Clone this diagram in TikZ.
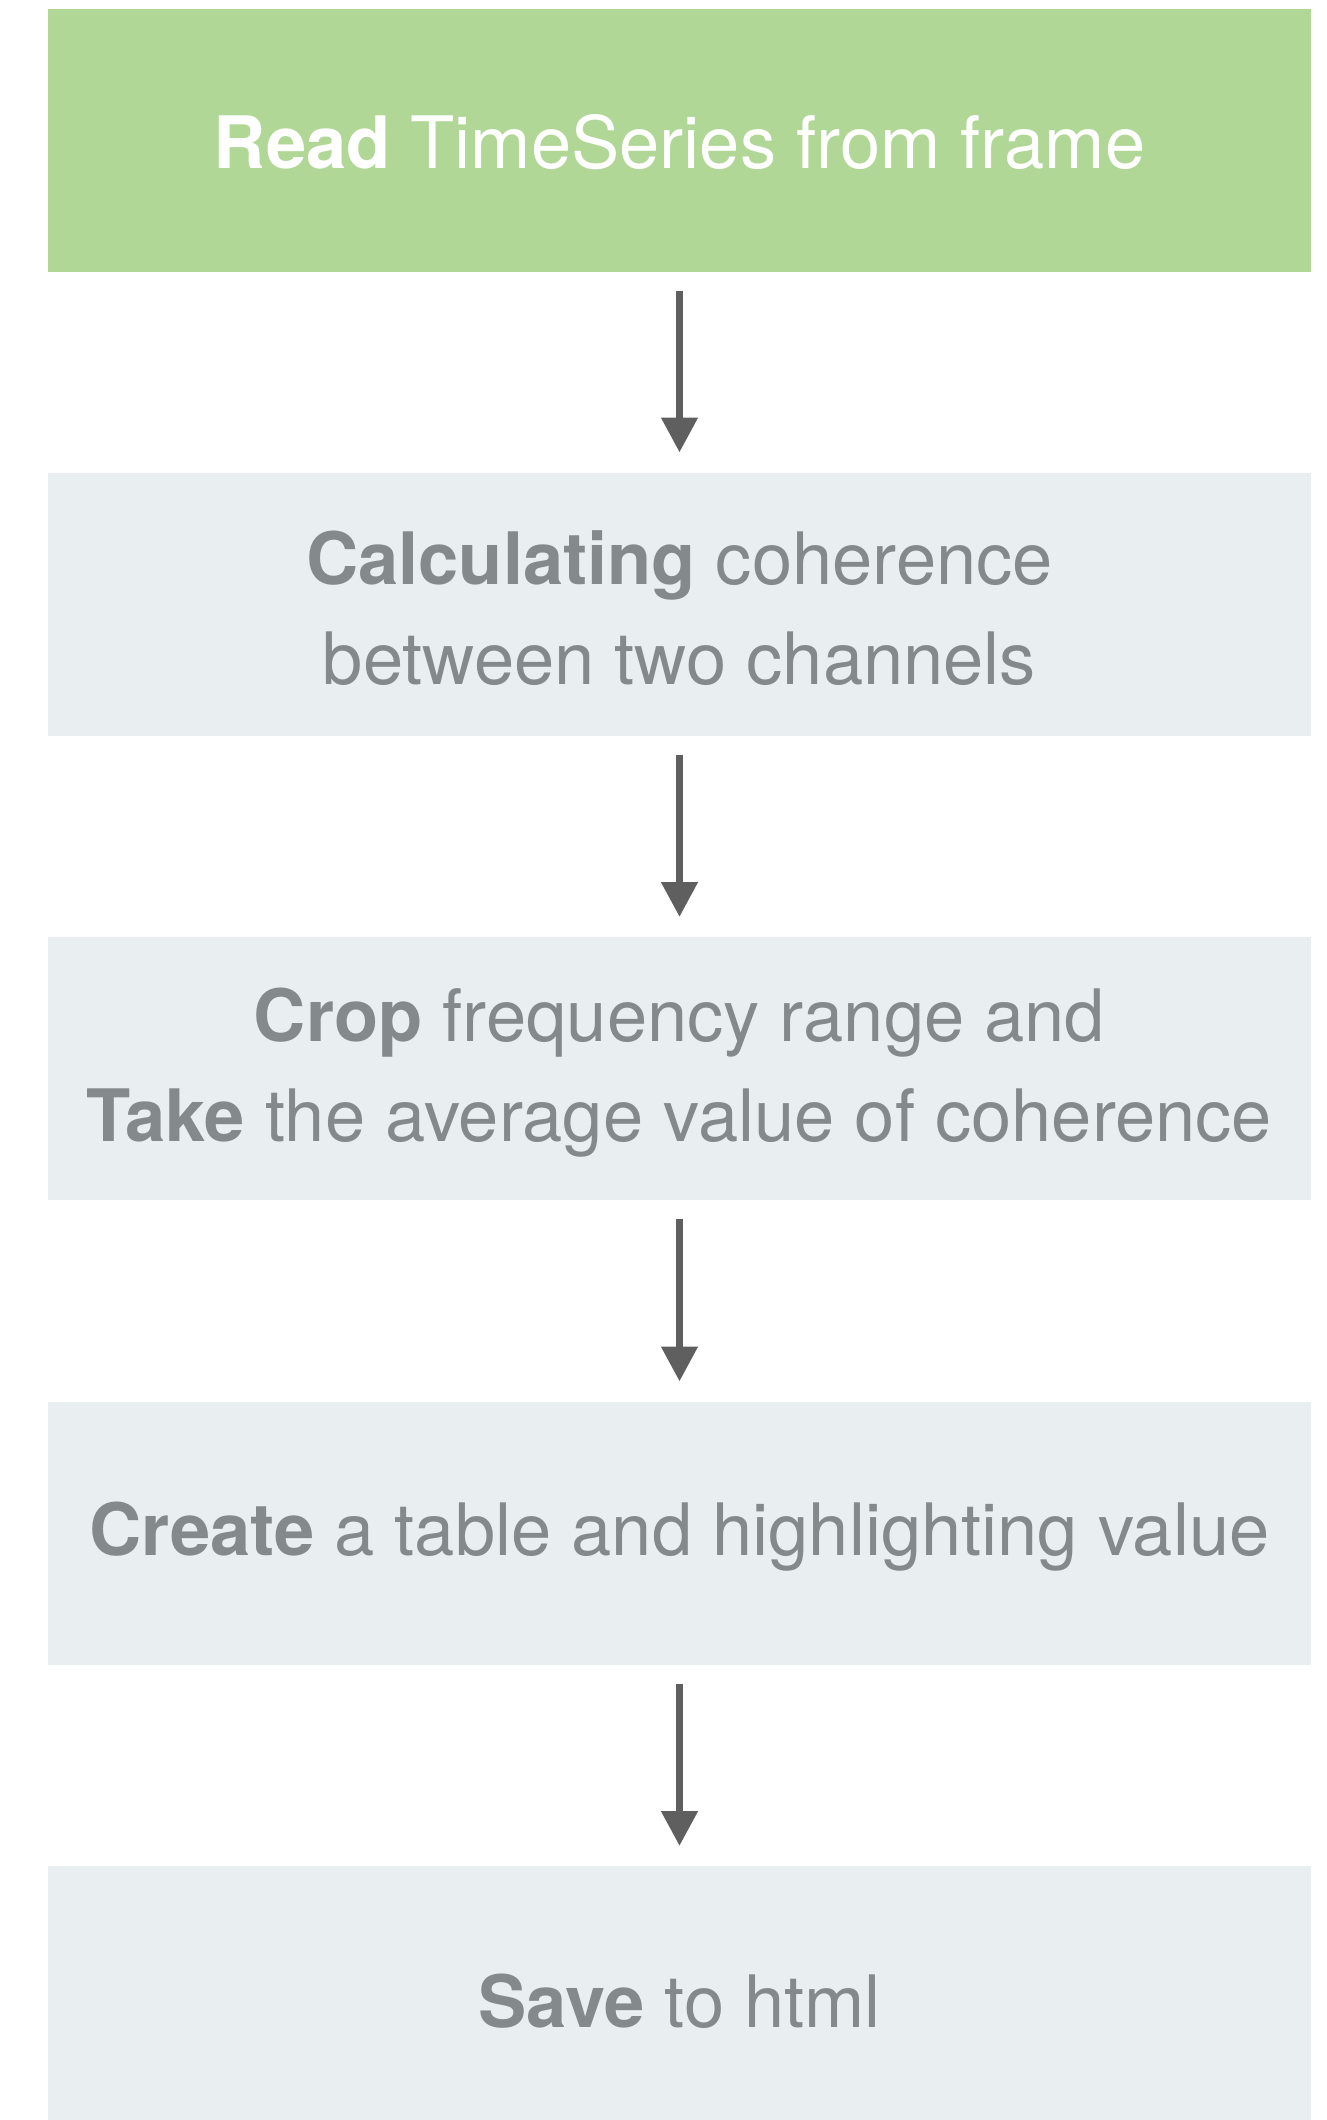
\documentclass[tikz,border=0pt]{standalone}
\usepackage{fontspec}
\setmainfont{TeX Gyre Heros}
\usetikzlibrary{arrows.meta}
\definecolor{boxgreen}{HTML}{B0D796}
\definecolor{boxgrey}{HTML}{E9EEF1}
\definecolor{txtgrey}{HTML}{848A8C}
\definecolor{arrgrey}{HTML}{5F5F5F}
\begin{document}
\begin{tikzpicture}[x=1pt,y=-1pt,
  stepbox/.style={rectangle, inner sep=0pt, outer sep=0pt, minimum width=1263pt, minimum height=263pt, fill=boxgrey},
  firstbox/.style={stepbox, fill=boxgreen},
  steptext/.style={inner sep=0pt, align=center, font=\fontsize{72.3}{100}\selectfont, text=txtgrey, yshift=-4pt},
  firsttext/.style={steptext, text=white, yshift=2pt},
  flowarrow/.style={draw=arrgrey, line width=7.7pt, -{Triangle[length=35pt,width=35pt]}, shorten <=19pt, shorten >=20pt}]
\useasboundingbox (0,0) rectangle (1327,2120);
\node[firstbox] (b1) at (679.5,140.5) {};
\node[stepbox] (b2) at (679.5,604) {};
\node[stepbox] (b3) at (679.5,1068.5) {};
\node[stepbox] (b4) at (679.5,1533) {};
\node[stepbox] (b5) at (679.5,1997.5) {};
\node[firsttext] (t1) at (b1.center) {\textbf{Read} TimeSeries from frame};
\node[steptext] (t2) at (b2.center) {\textbf{Calculating} coherence\\between two channels};
\node[steptext] (t3) at (b3.center) {\textbf{Crop} frequency range and\\\textbf{Take} the average value of coherence};
\node[steptext] (t4) at (b4.center) {\textbf{Create} a table and highlighting value};
\node[steptext] (t5) at (b5.center) {\textbf{Save} to html};
\draw[flowarrow] (b1.south) -- (b2.north);
\draw[flowarrow] (b2.south) -- (b3.north);
\draw[flowarrow] (b3.south) -- (b4.north);
\draw[flowarrow] (b4.south) -- (b5.north);
\end{tikzpicture}
\end{document}
